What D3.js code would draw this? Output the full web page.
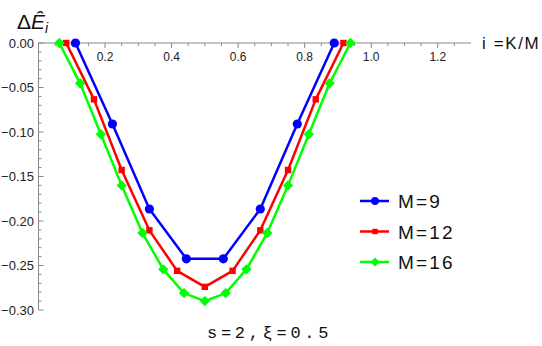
<!DOCTYPE html>
<html><head><meta charset="utf-8">
<script src="https://cdn.jsdelivr.net/npm/d3@7"></script>
<style>body{margin:0;background:#fff}svg{display:block}</style>
</head><body><svg id="c" width="542" height="346"></svg>
<script>
const xTicks = [0.2, 0.4, 0.6, 0.8, 1.0, 1.2];
const yTicks = [0.00, -0.05, -0.10, -0.15, -0.20, -0.25, -0.30];
const seriesNames = ["M=9", "M=12", "M=16"];
const seriesM = [9, 12, 16];
const valuesM9 = [0, -0.091, -0.1865, -0.2425, -0.2425, -0.1865, -0.091, 0];
const valuesM12 = [0, -0.0633, -0.1427, -0.2105, -0.256, -0.274, -0.256, -0.2105, -0.1427, -0.0633, 0];
const valuesM16 = [0, -0.0453, -0.1026, -0.160, -0.2135, -0.2543, -0.281, -0.290, -0.281, -0.2543, -0.2135, -0.160, -0.1026, -0.0453, 0];
const colors = ["#0000ff", "#ff0000", "#00ff00"];

const svg = d3.select("#c");
const x = d3.scaleLinear().domain([0, 1.3]).range([38.5, 471]);
const y = d3.scaleLinear().domain([0, -0.30]).range([43, 310]);
const font = "'Liberation Sans', Arial, Helvetica, sans-serif";
const axisCol = "#888";

function marker(sel, si) {
  if (si === 0) sel.append("circle").attr("r", 4.6).attr("fill", colors[0]);
  else if (si === 1) sel.append("rect").attr("x", -3.2).attr("y", -3.2).attr("width", 6.4).attr("height", 6.4).attr("fill", colors[1]);
  else sel.append("path").attr("d", "M0,-5.2L5.2,0L0,5.2L-5.2,0Z").attr("fill", colors[2]);
}

// x axis (top, ticks pointing down)
const xMinor = d3.range(1, 26).map(i => i * 0.05).filter(v => !xTicks.some(t => Math.abs(t - v) < 1e-9));
svg.append("line").attr("x1", x(0)).attr("x2", x(1.3)).attr("y1", y(0)).attr("y2", y(0)).attr("stroke", axisCol).attr("stroke-width", 1);
svg.selectAll(".xmaj").data(xTicks).enter().append("line")
  .attr("x1", d => x(d)).attr("x2", d => x(d)).attr("y1", y(0)).attr("y2", y(0) + 5).attr("stroke", axisCol);
svg.selectAll(".xmin").data(xMinor).enter().append("line")
  .attr("x1", d => x(d)).attr("x2", d => x(d)).attr("y1", y(0)).attr("y2", y(0) + 3).attr("stroke", axisCol);
svg.selectAll(".xlab").data(xTicks).enter().append("text")
  .attr("x", d => x(d)).attr("y", y(0) + 18).attr("text-anchor", "middle")
  .attr("font-family", font).attr("font-size", 12).attr("fill", "#222")
  .text(d => d3.format(".1f")(d));

// y axis (ticks pointing right)
const yMinor = d3.range(1, 30).map(i => -i * 0.01).filter(v => !yTicks.some(t => Math.abs(t - v) < 1e-9));
svg.append("line").attr("x1", x(0)).attr("x2", x(0)).attr("y1", y(0)).attr("y2", y(-0.30)).attr("stroke", axisCol);
svg.selectAll(".ymaj").data(yTicks).enter().append("line")
  .attr("x1", x(0)).attr("x2", x(0) + 5).attr("y1", d => y(d)).attr("y2", d => y(d)).attr("stroke", axisCol);
svg.selectAll(".ymin").data(yMinor).enter().append("line")
  .attr("x1", x(0)).attr("x2", x(0) + 3).attr("y1", d => y(d)).attr("y2", d => y(d)).attr("stroke", axisCol);
svg.selectAll(".ylab").data(yTicks).enter().append("text")
  .attr("x", 34).attr("y", d => y(d) + 4.5).attr("text-anchor", "end")
  .attr("font-family", font).attr("font-size", 13).attr("fill", "#222")
  .text(d => d3.format(".2f")(d).replace("-", "\u2212"));

// axis labels
const yl = svg.append("text").attr("x", 17).attr("y", 29).attr("font-family", font).attr("font-size", 21).attr("fill", "#111");
yl.append("tspan").text("\u0394");
yl.append("tspan").attr("font-style", "italic").text("\u00CA");
yl.append("tspan").attr("font-style", "italic").attr("font-size", 14).attr("dy", 4).text("i");
svg.append("text").attr("x", 482).attr("y", 49).attr("font-family", font).attr("font-size", 17)
  .attr("letter-spacing", 1.6).attr("fill", "#111").text("i =K/M");

// series
const allVals = [valuesM9, valuesM12, valuesM16];
const line = d3.line().x(d => x(d[0])).y(d => y(d[1]));
allVals.forEach((vals, si) => {
  const M = seriesM[si];
  const pts = vals.map((v, k) => [(k + 1) / M, v]);
  svg.append("path").datum(pts).attr("d", line).attr("fill", "none")
    .attr("stroke", colors[si]).attr("stroke-width", 2.5).attr("stroke-linejoin", "round");
  svg.selectAll(".p" + si).data(pts).enter().append("g")
    .attr("transform", d => `translate(${x(d[0])},${y(d[1])})`)
    .each(function () { marker(d3.select(this), si); });
});

// legend
seriesNames.forEach((name, si) => {
  const ly = 201 + si * 30.5;
  svg.append("line").attr("x1", 360).attr("x2", 389).attr("y1", ly).attr("y2", ly)
    .attr("stroke", colors[si]).attr("stroke-width", 2.5);
  const g = svg.append("g").attr("transform", `translate(375,${ly})`);
  marker(g, si);
  g.select("*").attr("transform", "scale(0.85)");
  svg.append("text").attr("x", 398).attr("y", ly + 7).attr("font-family", font)
    .attr("font-size", 19).attr("letter-spacing", 2.2).attr("fill", "#111").text(name);
});

// bottom note
svg.append("text").attr("x", 207).attr("y", 338).attr("font-family", "'Liberation Mono', 'DejaVu Sans Mono', monospace")
  .attr("font-size", 17).attr("letter-spacing", 3.7).attr("fill", "#111").text("s=2,\u03BE=0.5");
</script></body></html>
